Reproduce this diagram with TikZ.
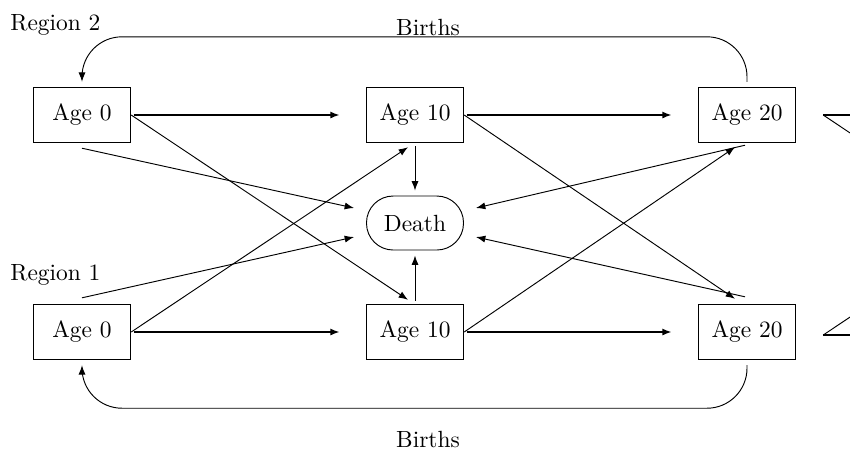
\documentclass[tikz,border=0pt]{standalone}
\usetikzlibrary{calc,arrows.meta}

\begin{document}
\begin{tikzpicture}[
    x=0.015cm, y=-0.015cm,
    >={Latex[length=4pt,width=3pt]},
    agebox/.style={draw, semithick, minimum width=1.455cm,
                   minimum height=0.825cm, inner sep=0pt},
    deathbox/.style={draw, rounded corners=0.4cm, minimum width=1.455cm,
                     minimum height=0.81cm, inner sep=0pt},
    flow/.style={thick, ->, shorten >=0.39cm, shorten <=1pt},
    move/.style={thin, ->},
    birth/.style={->, rounded corners=0.6cm},
    lbl/.style={font=\normalsize}
]
% page: 850 x 449 units, y grows downwards
\clip (0,0) rectangle (850,449);

% --- age classes of both regions, and the absorbing state ---
\node[agebox] (r2a0)  at (82,115)  {Age 0};
\node[agebox] (r2a10) at (415,115) {Age 10};
\node[agebox] (r2a20) at (747,115) {Age 20};
\node[agebox] (r1a0)  at (82,332)  {Age 0};
\node[agebox] (r1a10) at (415,332) {Age 10};
\node[agebox] (r1a20) at (747,332) {Age 20};
\node[deathbox] (death) at (415,223) {Death};

\node[lbl, anchor=west] (reg2) at (2,25)  {Region 2};
\node[lbl, anchor=west] (reg1) at (2,275) {Region 1};
\node[lbl] (births2) at (428,27)  {Births};
\node[lbl] (births1) at (428,439) {Births};

% free ends beyond the right margin
\coordinate (r2out)  at ($(r2a20.east)+(27,0)$);
\coordinate (r1out)  at ($(r1a20.east)+(27,3)$);
\coordinate (r2next) at (1100,115);
\coordinate (r1next) at (1100,335);
\coordinate (r2diag) at (1100,300);
\coordinate (r1diag) at (1100,150);

% ageing within a region
\draw[flow] (r2a0.east) -- (r2a10.west);
\draw[flow] (r2a10.east) -- (r2a20.west);
\draw[flow] (r1a0.east) -- (r1a10.west);
\draw[flow] (r1a10.east) -- (r1a20.west);
\draw[thick] (r2out) -- (r2next);
\draw[thick] (r1out) -- (r1next);

% ageing with migration
\draw[move] (r2a0.east) -- ($(r1a10.north)+(-7,-4)$);
\draw[move] (r1a0.east) -- ($(r2a10.south)+(-7,4)$);
\draw[move] (r2a10.east) -- ($(r1a20.north)+(-12,-5)$);
\draw[move] (r1a10.east) -- ($(r2a20.south)+(-12,4)$);
\draw[thin] (r2out) -- (r2diag);
\draw[thin] (r1out) -- (r1diag);

% deaths
\draw[move] ($(r2a0.south)+(0,5)$) -- ($(death.west)+(-12,-15)$);
\draw[move] ($(r1a0.north)+(0,-6)$) -- ($(death.west)+(-12,14)$);
\draw[move] ($(r2a10.south)+(0,3)$) -- ($(death.north)+(0,-5)$);
\draw[move] ($(r1a10.north)+(0,-3)$) -- ($(death.south)+(0,5)$);
\draw[move] ($(r2a20.south)+(-2,2)$) -- ($(death.east)+(12,-15)$);
\draw[move] ($(r1a20.north)+(-2,-7)$) -- ($(death.east)+(12,14)$);

% births back into the first age class
\draw[birth] ($(r2a20.north)+(0,-5)$) |- ($(r2a0.north)+(0,-50)$)
             -- ($(r2a0.north)+(0,-5)$);
\draw[birth] ($(r1a20.south)+(0,5)$) |- ($(r1a0.south)+(0,48)$)
             -- ($(r1a0.south)+(0,5)$);

\end{tikzpicture}
\end{document}
